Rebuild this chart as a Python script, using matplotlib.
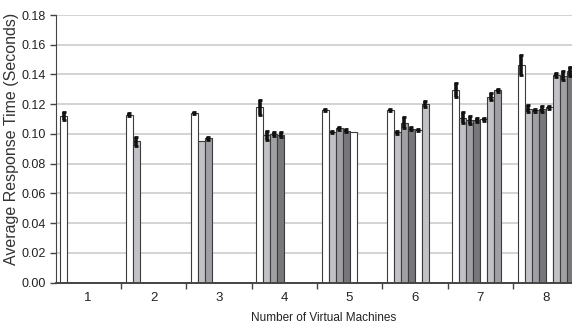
import matplotlib
matplotlib.use("Agg")
import matplotlib.pyplot as plt
from matplotlib.ticker import FixedLocator

# mean response time per VM, grouped by number of virtual machines
groups = [1, 2, 3, 4, 5, 6, 7, 8]
means = [
    [0.112],
    [0.113, 0.095],
    [0.114, 0.095, 0.097],
    [0.118, 0.099, 0.100, 0.0995],
    [0.1158, 0.1015, 0.1037, 0.102, 0.101],
    [0.116, 0.101, 0.1076, 0.1035, 0.1028, 0.120],
    [0.1295, 0.111, 0.1094, 0.1094, 0.1098, 0.125, 0.1293],
    [0.1464, 0.117, 0.116, 0.117, 0.118, 0.1395, 0.139, 0.142],
]
errors = [
    [0.0025],
    [0.001, 0.003],
    [0.0007, 0.0, 0.0008],
    [0.005, 0.0028, 0.0015, 0.0015],
    [0.0007, 0.0007, 0.0012, 0.001, 0.0],
    [0.0008, 0.001, 0.0036, 0.001, 0.0007, 0.002],
    [0.0047, 0.004, 0.0025, 0.0015, 0.001, 0.0025, 0.001],
    [0.0065, 0.0025, 0.001, 0.002, 0.001, 0.0015, 0.003, 0.003],
]
yticks = [0.00, 0.02, 0.04, 0.06, 0.08, 0.10, 0.12, 0.14, 0.16, 0.18]

colors = ['#ffffff', '#c2c2c6', '#a0a0a4', '#78787c']
narrow = ['Liberation Sans Narrow', 'Liberation Sans', 'DejaVu Sans']

fig = plt.figure(figsize=(5.72, 3.29), dpi=100)
ax = fig.add_axes([55.5 / 572, 46.5 / 329, 1 - 55.5 / 572, (314 - 46.5) / 329])

w = 0.107
pad = (1 - 8 * w) / 2
for g, ms, es in zip(groups, means, errors):
    for j, (m, e) in enumerate(zip(ms, es)):
        left = g - 0.5 + pad + j * w
        ax.bar(left, m, width=w, align='edge', color=colors[j % 4],
               edgecolor='#3c3c3c', linewidth=0.8, zorder=2)
        if e > 0:
            ax.errorbar(left + w / 2, m, yerr=e, fmt='none', ecolor='#111111',
                        elinewidth=2.6, capsize=1.3, capthick=2.0, zorder=3)

ax.set_xlim(0.5, 0.5 + (572 - 55.5) / 65.35)
ax.set_ylim(0, 0.18)

ax.set_yticks(yticks)
ax.set_yticklabels([f'{v:.2f}' for v in yticks], family=narrow, fontsize=9)
ax.yaxis.grid(True, color='#c8c8c8', linewidth=1.1, zorder=0)
ax.set_axisbelow(True)

ax.set_xticks(groups)
ax.set_xticklabels([str(g) for g in groups], family=narrow, fontsize=9.5)
ax.xaxis.set_minor_locator(FixedLocator([g + 0.5 for g in groups]))
ax.tick_params(axis='x', which='major', length=0, pad=7, colors='#222222')
ax.tick_params(axis='x', which='minor', length=4, width=1, color='#444444')
ax.tick_params(axis='y', length=4, width=1, color='#444444', labelcolor='#222222', pad=3)

for s in ['top', 'right']:
    ax.spines[s].set_visible(False)
ax.spines['left'].set_color('#444444')
ax.spines['bottom'].set_color('#444444')
ax.spines['bottom'].set_linewidth(1.4)

fig.text(12 / 572, 1 - 139 / 329, 'Average Response Time (Seconds)', rotation=90,
         ha='center', va='center', fontsize=11.5, color='#333333',
         family=['Liberation Sans', 'DejaVu Sans'])
fig.text(324 / 572, 1 - 318 / 329, 'Number of Virtual Machines', ha='center',
         va='center', fontsize=8.5, color='#222222', family=narrow)

fig.savefig('out.png', dpi=100)
